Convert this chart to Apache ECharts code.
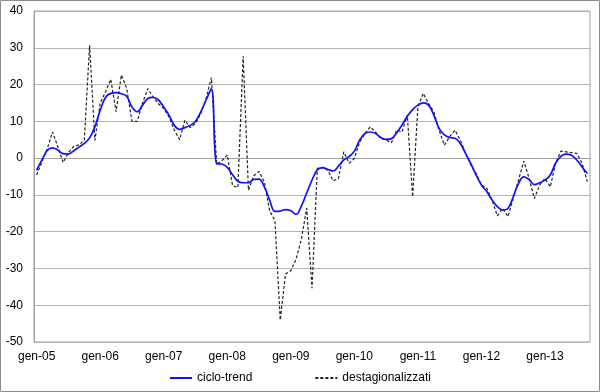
<!DOCTYPE html>
<html>
<head>
<meta charset="utf-8">
<script src="https://cdn.jsdelivr.net/npm/echarts@6/dist/echarts.min.js"></script>
<style>
html, body { margin: 0; padding: 0; background: #fff; }
#chart { width: 600px; height: 392px; }
</style>
</head>
<body>
<div id="chart"></div>
<script>
var mesi = ['gen', 'feb', 'mar', 'apr', 'mag', 'giu', 'lug', 'ago', 'set', 'ott', 'nov', 'dic'];
var anni = ['05', '06', '07', '08', '09', '10', '11', '12', '13'];

var cicloTrend = [
  -3.3, -0.5, 2.1, 2.8, 2.2, 1.2, 1.1, 2.0, 3.0, 4.0, 5.5, 8.5,
  13.0, 16.5, 17.6, 17.8, 17.5, 16.8, 13.9, 12.6, 14.4, 16.2, 16.5, 15.8,
  13.9, 11.7, 8.9, 7.8, 8.3, 8.9, 10.0, 12.6, 15.8, 18.9, -1.5, -1.6,
  -2.5, -4.5, -6.3, -6.7, -6.7, -5.8, -5.7, -7.8, -11.4, -14.5, -14.4, -14.0,
  -14.3, -15.3, -13.0, -9.5, -6.0, -3.2, -2.6, -3.1, -3.5, -2.2, -0.5, 0.4,
  1.9, 4.9, 6.7, 7.1, 6.7, 5.6, 5.1, 5.3, 6.9, 9.0, 11.4, 13.2,
  14.4, 15.0, 14.4, 11.7, 8.1, 6.3, 5.6, 5.4, 4.0, 1.3, -1.5, -4.6,
  -7.3, -9.1, -11.4, -13.2, -14.1, -13.7, -10.5, -6.9, -5.1, -5.8, -7.2, -6.7,
  -6.0, -4.6, -1.4, 0.5, 1.1, 0.8, -0.5, -2.4, -4.2
];

var destagionalizzati = [
  -4.6, -1.0, 2.5, 7.1, 3.1, -1.2, 1.5, 3.2, 3.6, 4.9, 30.7, 4.8,
  15.0, 18.0, 21.4, 12.6, 22.6, 19.0, 10.0, 10.0, 15.0, 18.9, 16.6, 14.8,
  13.5, 11.2, 7.6, 5.0, 10.3, 8.3, 9.4, 12.1, 16.2, 21.9, -1.6, -0.7,
  0.8, -7.5, -8.0, 27.7, -8.7, -4.8, -3.6, -6.5, -14.3, -17.0, -44.0, -31.5,
  -30.6, -27.5, -22.0, -13.6, -35.4, -2.8, -2.6, -3.3, -6.2, -5.5, 1.7, -1.4,
  -0.1, 4.4, 6.7, 8.5, 7.1, 5.3, 4.9, 4.2, 7.6, 7.1, 11.7, -10.5,
  14.0, 17.6, 14.9, 12.6, 7.6, 3.5, 5.8, 7.6, 4.9, 1.3, -1.9, -4.2,
  -7.3, -8.2, -11.4, -15.7, -13.7, -15.9, -11.0, -6.0, -0.8, -5.5, -11.0, -7.3,
  -5.5, -7.8, -1.4, 1.9, 1.7, 1.5, 1.3, -1.4, -6.4
];

// etichette mensili gen-05 ... set-13
var categorie = [];
anni.forEach(function (a) {
  mesi.forEach(function (m) {
    if (categorie.length < cicloTrend.length) categorie.push(m + '-' + a);
  });
});

var myChart = echarts.init(document.getElementById('chart'));
var font = 'Liberation Sans, Arial, sans-serif';
var option = {
  animation: false,
  textStyle: { fontFamily: font },
  graphic: [{
    type: 'rect',
    shape: { x: 0.5, y: 0.5, width: 599, height: 391 },
    style: { fill: 'none', stroke: '#8c8c8c', lineWidth: 1 }
  }],
  grid: {
    left: 34, right: 10, top: 11, bottom: 50,
    show: true, borderColor: '#a0a0a0', borderWidth: 1
  },
  legend: {
    bottom: 3,
    left: 'center',
    itemWidth: 22,
    itemHeight: 10,
    itemGap: 62,
    itemStyle: { opacity: 0 },
    textStyle: { fontSize: 12, color: '#000', fontFamily: font },
    data: ['ciclo-trend', 'destagionalizzati']
  },
  xAxis: [
    {
      type: 'category',
      data: categorie,
      boundaryGap: true,
      axisLine: { onZero: true, lineStyle: { color: '#a0a0a0' } },
      axisTick: { interval: 11, length: 4, lineStyle: { color: '#a0a0a0' } },
      axisLabel: { show: false },
      splitLine: { show: false }
    },
    {
      type: 'category',
      data: categorie,
      position: 'bottom',
      boundaryGap: true,
      axisLine: { show: false, onZero: false },
      axisTick: { show: false },
      axisLabel: { interval: 11, fontSize: 12, color: '#000', margin: 9, fontFamily: font },
      splitLine: { show: false }
    }
  ],
  yAxis: {
    type: 'value',
    min: -50,
    max: 40,
    interval: 10,
    axisLine: { show: true, lineStyle: { color: '#a0a0a0' } },
    axisTick: { show: false },
    axisLabel: { fontSize: 12, color: '#000', margin: 11, fontFamily: font },
    splitLine: { lineStyle: { color: '#b4b4b4', width: 1 } }
  },
  series: [
    {
      name: 'ciclo-trend',
      type: 'line',
      data: cicloTrend,
      smooth: 0.4,
      symbol: 'none',
      lineStyle: { color: '#1010ff', width: 1.7 },
      itemStyle: { color: '#1010ff' },
      z: 3
    },
    {
      name: 'destagionalizzati',
      type: 'line',
      data: destagionalizzati,
      symbol: 'none',
      lineStyle: { color: '#222', width: 1.2, type: [3, 2] },
      itemStyle: { color: '#222' },
      z: 2
    }
  ]
};
myChart.setOption(option);
</script>
</body>
</html>
